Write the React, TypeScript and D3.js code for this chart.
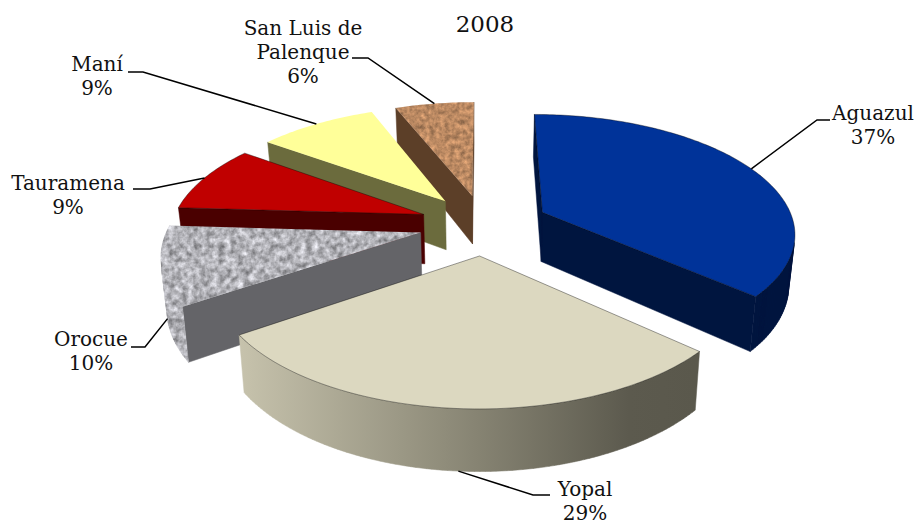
import React from "react";
import * as d3 from "d3";

const title = "2008";
const categories = ["Aguazul", "Yopal", "Orocue", "Tauramena", "Maní", "San Luis de Palenque"];
const shares = [36.6, 28.9, 10.45, 9.05, 9, 6];
const topColors = ["#003399", "#DCD8C0", "#B4B4BA", "#C00000", "#FFFF99", "#C08B5C"];
const sideColors = ["#00153F", "#8F8C7A", "#646468", "#4A0000", "#6B6B3D", "#5C3F28"];
const textures: (string | null)[] = [null, null, "granite", null, null, "cork"];
const outlined = [true, true, false, true, false, false];
const paintOrder = [5, 4, 3, 2, 0, 1];

const labelLines = [["Aguazul"], ["Yopal"], ["Orocue"], ["Tauramena"], ["Maní"], ["San Luis de", "Palenque"]];
const labelCentre = [873, 585, 91, 68, 97, 303];
const labelBaseline = [120, 496, 346, 190, 71, 35];
const elbowX = [817, 533, 145, 150, 143, 368];
const elbowEndX = [830, 550, 131, 133, 128, 352];
const elbowY = [120, 495, 347, 189, 72, 58];

const CX = 484, CY = 224.5, R = 252, K = 0.465, P = 0.16, EXPLODE = 65, DEPTH = 50, SHRINK = 0.98;
const FONT = "'DejaVu Serif', serif";

type Pt = { x: number; y: number; s: number };

const pieAngles = d3.pie<number>().sort(null).startAngle(0).endAngle(2 * Math.PI)(shares);
const line = d3.line<Pt>().x((d) => d.x).y((d) => d.y);

// Perspective projection of a point on the pie's plane (X right, Y away from the viewer).
function project(X: number, Y: number): Pt {
  const s = 1 / (1 + (P * Y) / R);
  return { x: CX + X * s, y: CY - Y * K * s, s };
}
function offsetOf(mid: number): [number, number] {
  return [EXPLODE * Math.sin(mid), EXPLODE * Math.cos(mid)];
}
function rimPoint(a: number, mid: number): Pt {
  const [ox, oy] = offsetOf(mid);
  return project(ox + R * Math.sin(a), oy + R * Math.cos(a));
}
function lower(p: Pt): Pt {
  return { x: CX + (p.x - CX) * SHRINK, y: p.y + DEPTH * p.s, s: p.s };
}
function facesViewer(p: Pt, q: Pt): boolean {
  const poly = [p, q, lower(q), lower(p)].map((d) => [d.x, d.y] as [number, number]);
  return d3.polygonArea(poly) > 0;
}
function quad(p: Pt, q: Pt): string {
  return (line([p, q, lower(q), lower(p)]) ?? "") + "Z";
}

const slices = pieAngles.map((arc, i) => {
  const mid = (arc.startAngle + arc.endAngle) / 2;
  const [ox, oy] = offsetOf(mid);
  const apex = project(ox, oy);
  const n = Math.max(2, Math.round(((arc.endAngle - arc.startAngle) * 180) / Math.PI));
  const steps = d3.range(n + 1).map((k) => arc.startAngle + ((arc.endAngle - arc.startAngle) * k) / n);
  const rim = steps.map((a) => rimPoint(a, mid));
  const walls = [[apex, rim[0]], [rim[n], apex]].filter(([p, q]) => facesViewer(p, q)).map(([p, q]) => quad(p, q)).join("");
  const rimSides = d3.pairs(rim).filter(([p, q]) => facesViewer(p, q)).map(([p, q]) => quad(p, q)).join("");
  const top = (line([apex, ...rim]) ?? "") + "Z";
  const anchorTop = rimPoint(mid, mid);
  const anchor = Math.cos(mid) < -0.2 ? lower(anchorTop) : anchorTop;
  return { i, walls, rimSides, top, anchor };
});

function Texture({ id, freq, octaves, gain, base, tint }: { id: string; freq: number; octaves: number; gain: number; base: number; tint: number[] }) {
  const row = (t: number) => `${gain * t} 0 0 0 ${base * t}`;
  return (
    <filter id={id} x="0" y="0" width="100%" height="100%" colorInterpolationFilters="sRGB">
      <feTurbulence type="fractalNoise" baseFrequency={freq} numOctaves={octaves} seed={4} result="n" />
      <feColorMatrix in="n" type="matrix" values={`${row(tint[0])} ${row(tint[1])} ${row(tint[2])} 0 0 0 0 1`} result="c" />
      <feComposite in="c" in2="SourceAlpha" operator="in" />
    </filter>
  );
}

export default function App() {
  return (
    <svg width={916} height={525} viewBox="0 0 916 525" style={{ position: "fixed", left: 0, top: 0, background: "#fff" }}>
      <defs>
        <Texture id="granite" freq={0.16} octaves={3} gain={0.7} base={0.35} tint={[1, 1, 1.03]} />
        <Texture id="cork" freq={0.2} octaves={3} gain={0.5} base={0.45} tint={[1.05, 0.77, 0.55]} />
        <linearGradient id="yopalSide" gradientUnits="userSpaceOnUse" x1={241} x2={697} y1={0} y2={0}>
          <stop offset="0" stopColor="#C6C2AC" />
          <stop offset="0.45" stopColor="#8F8C7A" />
          <stop offset="0.85" stopColor="#5C5A4E" />
          <stop offset="1" stopColor="#5A584C" />
        </linearGradient>
      </defs>
      {paintOrder.map((i) => {
        const s = slices[i];
        const tex = textures[i];
        const rimFill = i === 1 ? "url(#yopalSide)" : sideColors[i];
        return (
          <g key={categories[i]}>
            <path d={s.walls} fill={sideColors[i]} stroke={sideColors[i]} strokeWidth={0.5} />
            <path
              d={s.rimSides}
              fill={rimFill}
              stroke={rimFill}
              strokeWidth={0.5}
              filter={i === 2 ? "url(#granite)" : undefined}
            />
            <path
              d={s.top}
              fill={topColors[i]}
              filter={tex ? `url(#${tex})` : undefined}
              stroke={outlined[i] ? "rgba(0,0,0,0.55)" : "none"}
              strokeWidth={0.7}
            />
          </g>
        );
      })}
      {slices.map((s) => {
        const i = s.i;
        const path = d3.line()([
          [s.anchor.x, s.anchor.y],
          [elbowX[i], elbowY[i]],
          [elbowEndX[i], elbowY[i]],
        ]);
        return <path key={categories[i]} d={path ?? ""} fill="none" stroke="#000" strokeWidth={1.5} />;
      })}
      <g fontFamily={FONT} fontSize={20} fill="#111" textAnchor="middle">
        {categories.map((c, i) => {
          const lines = [...labelLines[i], `${Math.round(shares[i])}%`];
          return (
            <text key={c} x={labelCentre[i]} y={labelBaseline[i]}>
              {lines.map((l, k) => (
                <tspan key={l} x={labelCentre[i]} dy={k === 0 ? 0 : 24}>
                  {l}
                </tspan>
              ))}
            </text>
          );
        })}
      </g>
      <text x={485} y={32} fontFamily={FONT} fontSize={23} fill="#111" textAnchor="middle">
        {title}
      </text>
    </svg>
  );
}
